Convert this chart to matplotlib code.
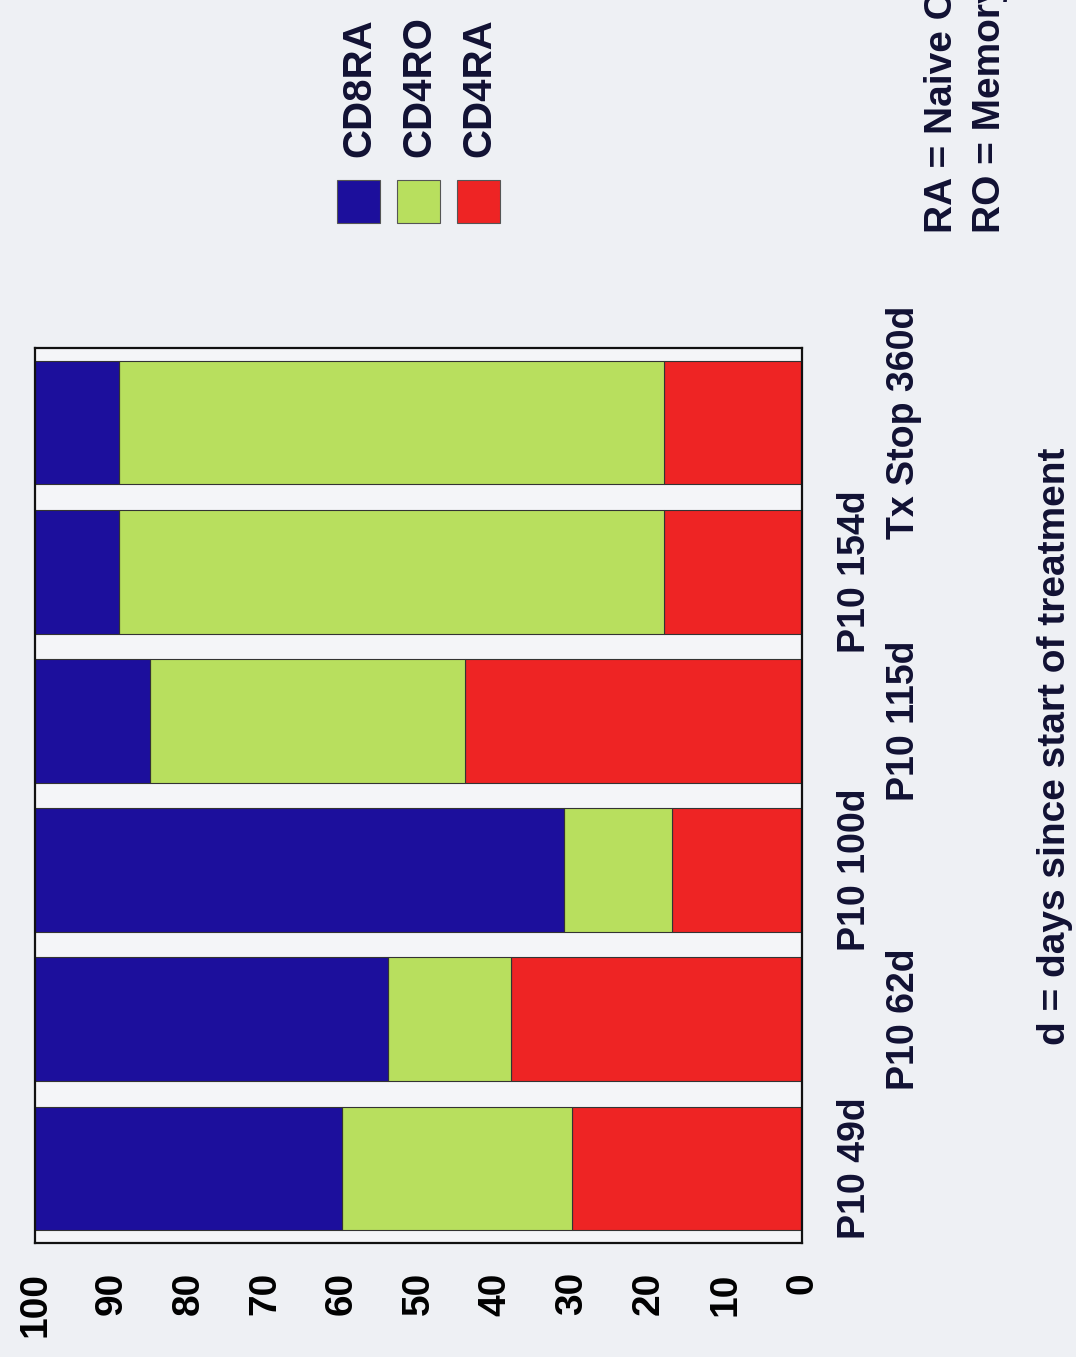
import matplotlib.pyplot as plt
import matplotlib.transforms as mtransforms
from matplotlib.patches import Rectangle
import numpy as np

plt.rcParams['font.family'] = ['Liberation Sans', 'DejaVu Sans']
plt.rcParams['font.weight'] = 'bold'

# data (percent of cells), bottom to top in the rotated page
samples = ["P10 49d", "P10 62d", "P10 100d", "P10 115d", "P10 154d", "Tx Stop 360d"]
cd4ra = [30, 38, 17, 44, 18, 18]
cd4ro = [30, 16, 14, 41, 71, 71]
cd8ra = [40, 46, 69, 15, 11, 11]
series_names = ["CD8RA", "CD4RO", "CD4RA"]
ticks = list(range(0, 101, 10))

c_blue = '#1c0f9c'
c_green = '#b8df5e'
c_red = '#ee2424'
bg = '#eef0f4'

W, H = 1076, 1357
fig = plt.figure(figsize=(W / 100, H / 100), dpi=100, facecolor=bg)

# plot box in pixels: x 35..802, y 348..1243 (from top)
ax = fig.add_axes([35 / W, (H - 1243) / H, (802 - 35) / W, (1243 - 348) / H])
ax.set_facecolor('#f4f5f8')

y = np.arange(len(samples))
r = np.array(cd4ra)
g = np.array(cd4ro)
b = np.array(cd8ra)
kw = dict(height=0.83, edgecolor='#333333', linewidth=0.8)
ax.barh(y, r, left=0, color=c_red, **kw)
ax.barh(y, g, left=r, color=c_green, **kw)
ax.barh(y, b, left=r + g, color=c_blue, **kw)

ax.set_xlim(100, 0)
ax.set_ylim(-0.5, len(samples) - 0.5)
ax.set_xticks(ticks)
ax.set_xticklabels([str(t) for t in ticks], rotation=90, fontsize=28, fontweight='bold')
ax.tick_params(axis='x', length=0, pad=21)
ax.set_yticks([])
for s in ax.spines.values():
    s.set_linewidth(1.6)
    s.set_color('#111111')

# staggered category labels on the right side
trans = mtransforms.blended_transform_factory(ax.transAxes, ax.transData)
for i, name in enumerate(samples):
    xpos = 1.069 if i % 2 == 0 else 1.133
    ax.text(xpos, i, name, transform=trans, rotation=90, ha='center', va='center',
            fontsize=27, fontweight='bold', color='#111133')

# legend
leg_colors = [c_blue, c_green, c_red]
leg_x = [337, 397, 457]
for name, col, lx in zip(series_names, leg_colors, leg_x):
    fig.add_artist(Rectangle((lx / W, (H - 223) / H), 43 / W, 43 / H,
                             transform=fig.transFigure, facecolor=col,
                             edgecolor='#555555', linewidth=0.8))
    fig.text((lx + 22) / W, (H - 157) / H, name, rotation=90, ha='center', va='bottom',
             fontsize=29, fontweight='bold', color='#111133')

fig.text(942 / W, (H - 233) / H, "RA = Naive Cells", rotation=90, ha='center', va='bottom',
         fontsize=28, fontweight='bold', color='#111133')
fig.text(990 / W, (H - 233) / H, "RO = Memory Cells", rotation=90, ha='center', va='bottom',
         fontsize=28, fontweight='bold', color='#111133')
fig.text(1055 / W, (H - 746) / H, "d = days since start of treatment", rotation=90,
         ha='center', va='center', fontsize=28, fontweight='bold', color='#111133')

fig.savefig('out.png', dpi=100, facecolor=bg)
